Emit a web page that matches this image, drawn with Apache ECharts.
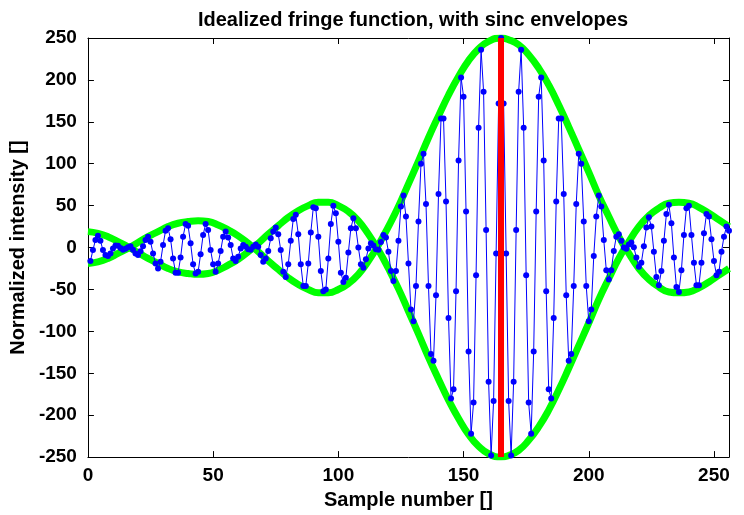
<!DOCTYPE html>
<html>
<head>
<meta charset="utf-8">
<title>Idealized fringe function</title>
<script src="https://cdn.jsdelivr.net/npm/echarts@6/dist/echarts.min.js"></script>
<style>
  html, body { margin: 0; padding: 0; background: #fff; }
  #chart { width: 744px; height: 515px; }
</style>
</head>
<body>
<div id="chart"></div>
<script>
// fringe samples, first one is sample number 1
var firstSample = 1;
var fringe = [
  -16, -3, 9, 14, 8, -3, -9, -10, -7, -1, 2.5, 2, -0.5, -2.5, -1.5, 0.5,
  1.5, -2.5, -7, -9, -4.5, 1.5, 9, 13, 7, -7, -19, -25, -17, 3, 20, 23,
  10, -13, -30, -30, -12, 13, 28, 26, 5, -20, -31, -29, -8, 15, 28, 21,
  -3, -20, -29, -19, -4, 13, 19, 12, 3, -13, -16, -11, -1, 3, 1, -2,
  -2.5, 1, 3.5, 1, -9, -17, -13, -4, 11, 19, 24, 16, -3, -29, -35, -20,
  8, 34, 39, 16, -20, -46, -46, -19, 18, 48, 47, 13, -28, -52, -50, -13,
  28, 50, 41, 7, -30, -41, -36, -6, 23, 35, 23, 0, -20, -24, -14, -1,
  5, 2.5, -2, -2.5, 6.5, 15, 12, -5, -28, -40, -28, 8, 49, 62, 37, -19,
  -74, -88, -46, 31, 100, 112, 52, -46, -127, -135, -57, 64, 154, 154, 55, -84,
  -180, -169, -52, 104, 203, 180, 43, -124, -222, -185, -33, 143, 236, 186, 21, -160,
  -248, -183, -7, 172, 250, 172, -7, -183, -248, -160, 21, 186, 236, 143, -33, -185,
  -222, -124, 43, 180, 203, 104, -52, -169, -180, -84, 55, 154, 154, 64, -57, -135,
  -127, -46, 52, 112, 100, 31, -46, -88, -74, -10, 37, 62, 49, 9, -27, -38,
  -27, -4, 13, 16, 8, 0, -1.5, 3.5, 6, 0.5, -12, -23, -18, 1.5, 24, 36,
  25, -5, -35, -45, -28, 8, 40, 51, 29, -12, -47, -53, -27, 15, 47, 50,
  15, -18, -45, -45, -18, 17, 40, 37, 10, -16, -33, -29, -5, 13, 25, 20
];

// sinc envelope
var envX = [0, 4, 8, 12, 16, 20, 24, 28, 32, 36, 40, 44, 48, 52, 56, 60,
  64, 68, 72, 76, 80, 84, 88, 92, 96, 100, 104, 108, 112, 116, 120, 124,
  128, 132, 136, 140, 144, 148, 152, 156, 160, 165, 168, 172, 176, 180, 184,
  188, 192, 196, 200, 204, 208, 212, 216, 220, 224, 228, 232, 236, 240, 244,
  248, 252, 256];
var envY = [-19, -17, -13, -7, -1, 6, 13, 19, 25, 29, 31, 32, 31, 27, 21, 14,
  5, -5, -16, -26, -36, -44, -50, -54, -54, -50, -43, -32, -16, 3, 25, 49,
  76, 103, 131, 157, 182, 204, 223, 237, 246, 250, 248, 242, 230, 214, 194,
  170, 144, 117, 90, 62, 37, 13, -7, -25, -38, -47, -53, -54, -53, -48,
  -41, -33, -25];

var peakSample = 165;

var xTicks = { min: 0, max: 256, interval: 50 };
var yTicks = { min: -250, max: 250, interval: 50 };

var fontFamily = 'Liberation Sans, Arial, Helvetica, sans-serif';
var textStyle = { fontFamily: fontFamily, fontSize: 19, fontWeight: 'bold', color: '#000' };
var bigText = Object.assign({}, textStyle, { fontSize: 20 });

var fringeData = fringe.map(function (v, i) { return [firstSample + i, v]; });
var envUpper = envX.map(function (x, i) { return [x, envY[i]]; });
var envLower = envX.map(function (x, i) { return [x, -envY[i]]; });

function frameAxis(range, position, withLabels) {
  return {
    type: 'value',
    position: position,
    min: range.min,
    max: range.max,
    interval: range.interval,
    axisLine: { show: true, onZero: false, lineStyle: { color: '#000', width: 1 } },
    axisTick: { show: true, inside: true, length: 6, lineStyle: { color: '#000', width: 1 } },
    axisLabel: withLabels
      ? Object.assign({ show: true, showMaxLabel: position === 'bottom' ? false : null }, textStyle)
      : { show: false },
    splitLine: { show: false }
  };
}

var xBottom = frameAxis(xTicks, 'bottom', true);
xBottom.axisLabel.margin = 9;
xBottom.name = 'Sample number []';
xBottom.nameLocation = 'middle';
xBottom.nameGap = 29;
xBottom.nameTextStyle = bigText;

var yLeft = frameAxis(yTicks, 'left', true);
yLeft.axisLabel.margin = 11;
yLeft.name = 'Normalized intensity []';
yLeft.nameLocation = 'middle';
yLeft.nameGap = 48;
yLeft.nameTextStyle = bigText;

var myChart = echarts.init(document.getElementById('chart'), null, { renderer: 'canvas' });
myChart.setOption({
  animation: false,
  backgroundColor: '#fff',
  title: {
    text: 'Idealized fringe function, with sinc envelopes',
    left: 408,
    top: 5,
    textAlign: 'center',
    textStyle: bigText
  },
  grid: { left: 84, right: 15, top: 38, bottom: 49, containLabel: false },
  xAxis: [xBottom, frameAxis(xTicks, 'top', false)],
  yAxis: [yLeft, frameAxis(yTicks, 'right', false)],
  series: [
    {
      type: 'line',
      data: envUpper,
      smooth: true,
      symbol: 'none',
      lineStyle: { color: '#00ff00', width: 7 },
      z: 1
    },
    {
      type: 'line',
      data: envLower,
      smooth: true,
      symbol: 'none',
      lineStyle: { color: '#00ff00', width: 7 },
      z: 1
    },
    {
      type: 'line',
      data: fringeData,
      symbol: 'circle',
      symbolSize: 6,
      showSymbol: true,
      showAllSymbol: true,
      itemStyle: { color: '#0000ff' },
      lineStyle: { color: '#0000ff', width: 1 },
      z: 2,
      markLine: {
        silent: true,
        symbol: ['none', 'none'],
        label: { show: false },
        lineStyle: { color: '#ff0000', width: 6, type: 'solid' },
        data: [{ xAxis: peakSample }]
      }
    }
  ]
});
</script>
</body>
</html>
